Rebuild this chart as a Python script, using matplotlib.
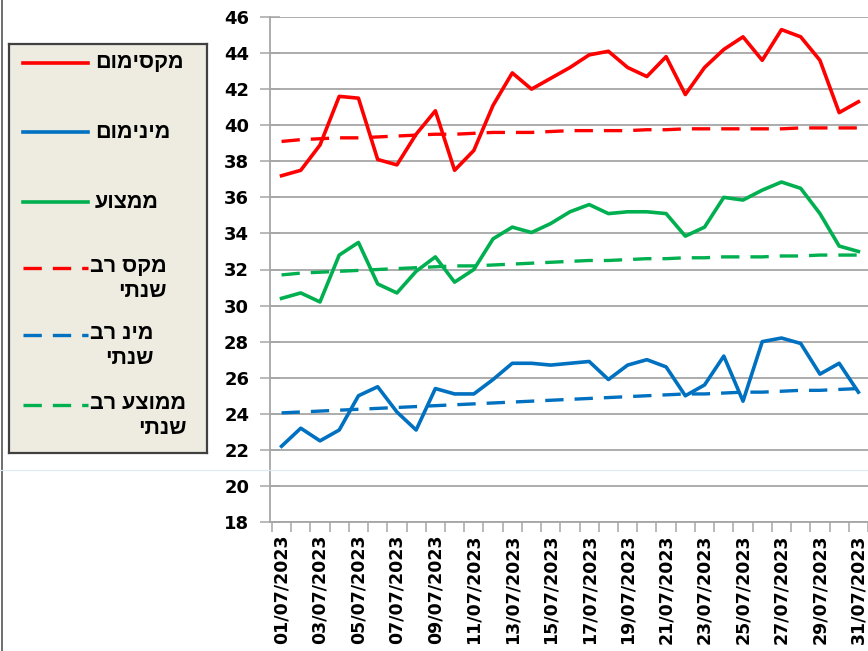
import numpy as np
import matplotlib.pyplot as plt
from matplotlib.lines import Line2D

# ---------------------------------
# Data: daily temperatures, July 2023
# ---------------------------------
days = list(range(1, 32))
date_labels = ["%02d/07/2023" % d for d in days]

max_t = [37.2, 37.5, 38.9, 41.6, 41.5, 38.1, 37.8, 39.5, 40.8, 37.5, 38.6,
         41.1, 42.9, 42.0, 42.6, 43.2, 43.9, 44.1, 43.2, 42.7, 43.8, 41.7,
         43.2, 44.2, 44.9, 43.6, 45.3, 44.9, 43.6, 40.7, 41.3]
min_t = [22.2, 23.2, 22.5, 23.1, 25.0, 25.5, 24.1, 23.1, 25.4, 25.1, 25.1,
         25.9, 26.8, 26.8, 26.7, 26.8, 26.9, 25.9, 26.7, 27.0, 26.6, 25.0,
         25.6, 27.2, 24.7, 28.0, 28.2, 27.9, 26.2, 26.8, 25.2]
avg_t = [30.4, 30.7, 30.2, 32.8, 33.5, 31.2, 30.7, 31.9, 32.7, 31.3, 32.0,
         33.7, 34.35, 34.05, 34.55, 35.2, 35.6, 35.1, 35.2, 35.2, 35.1, 33.85,
         34.35, 36.0, 35.85, 36.4, 36.85, 36.5, 35.1, 33.3, 33.0]

max_clim = [39.1, 39.2, 39.25, 39.3, 39.3, 39.35, 39.4, 39.45, 39.5, 39.5, 39.55,
            39.6, 39.6, 39.6, 39.65, 39.7, 39.7, 39.7, 39.7, 39.75, 39.75, 39.8,
            39.8, 39.8, 39.8, 39.8, 39.8, 39.85, 39.85, 39.85, 39.85]
min_clim = [24.05, 24.1, 24.15, 24.2, 24.25, 24.3, 24.35, 24.4, 24.45, 24.5, 24.55,
            24.6, 24.65, 24.7, 24.75, 24.8, 24.85, 24.9, 24.95, 25.0, 25.05, 25.1,
            25.1, 25.15, 25.2, 25.2, 25.25, 25.3, 25.3, 25.35, 25.4]
avg_clim = [31.7, 31.8, 31.85, 31.9, 31.95, 32.0, 32.05, 32.1, 32.15, 32.2, 32.2,
            32.25, 32.3, 32.35, 32.4, 32.45, 32.5, 32.5, 32.55, 32.6, 32.6, 32.65,
            32.65, 32.7, 32.7, 32.7, 32.75, 32.75, 32.8, 32.8, 32.8]

labels = ["מקסימום", "מינימום", "ממצוע", "מקס רב\nשנתי", "מינ רב\nשנתי", "ממוצע רב\nשנתי"]

RED, BLUE, GREEN = "#FF0000", "#0070C0", "#00B050"
GRID = "#A6A6A6"


def rtl(s):
    # matplotlib has no bidi support: reverse each line for display
    return "\n".join(line[::-1] for line in s.split("\n"))


plt.rcParams['font.family'] = ['DejaVu Sans']
plt.rcParams['font.weight'] = 'bold'

W, H = 868, 651
fig = plt.figure(figsize=(W / 100, H / 100), dpi=100)

# ---------------------------------
# Main plot
# ---------------------------------
ax = fig.add_axes([270 / W, 1 - 522 / H, 598 / W, 505 / H])
x = np.arange(len(days))

series = [
    (max_t, RED, '-'), (min_t, BLUE, '-'), (avg_t, GREEN, '-'),
    (max_clim, RED, '--'), (min_clim, BLUE, '--'), (avg_clim, GREEN, '--'),
]
for vals, col, ls in series:
    if ls == '-':
        ax.plot(x, vals, color=col, lw=2.6, zorder=3)
    else:
        ax.plot(x, vals, color=col, lw=2.4, dashes=(5.5, 3.3), zorder=3)

ax.set_ylim(18, 46)
ax.set_yticks(np.arange(18, 47, 2))
ax.set_xlim(-0.6, 30.5)
ax.set_xticks(x[::2])
ax.set_xticklabels(date_labels[::2], rotation=90, fontsize=12.5, fontweight='bold')
ax.set_xticks(np.arange(-0.5, 31, 1), minor=True)
ax.tick_params(axis='x', which='major', length=0, pad=9)
ax.tick_params(axis='x', which='minor', length=7, color=GRID, width=1.1)
ax.tick_params(axis='y', direction='inout', length=14, color=GRID, width=1.1,
               labelsize=13, pad=8)

ax.grid(axis='y', color=GRID, lw=1.3)
for s in ['top', 'right']:
    ax.spines[s].set_visible(False)
ax.spines['left'].set_color(GRID)
ax.spines['left'].set_linewidth(1.3)
ax.spines['bottom'].set_color(GRID)
ax.spines['bottom'].set_linewidth(1.3)

# ---------------------------------
# Legend box (drawn by hand, Hebrew text)
# ---------------------------------
lg = fig.add_axes([9 / W, 1 - 453 / H, 198 / W, 409 / H])
lg.set_xlim(0, 198)
lg.set_ylim(409, 0)
lg.set_facecolor("#EEEBE0")
lg.set_xticks([])
lg.set_yticks([])
for s in lg.spines.values():
    s.set_color("#404040")
    s.set_linewidth(1.6)

heb_font = ['Liberation Sans', 'DejaVu Sans']
rows = [19, 88, 158, 224, 291, 361]
for (vals, col, ls), lab, ry in zip(series, labels, rows):
    if ls == '-':
        lg.plot([14, 79], [ry, ry], color=col, lw=2.6)
    else:
        lg.plot([14, 79], [ry, ry], color=col, lw=2.4, dashes=(5.5, 3.3))
    if "\n" in lab:
        lg.text(81, ry - 12, rtl(lab), ha='left', va='top', fontsize=15.5,
                family=heb_font, fontweight='bold', multialignment='right',
                linespacing=1.25)
    else:
        lg.text(86, ry, rtl(lab), ha='left', va='center', fontsize=15.5,
                family=heb_font, fontweight='bold')

# frame edges of the original screenshot
fig.add_artist(Line2D([1.5 / W, 1.5 / W], [0, 1], color="#555555", lw=1.2))
fig.add_artist(Line2D([0, 1], [1 - 470 / H, 1 - 470 / H], color="#DCEAF5", lw=0.8))

fig.savefig("out.png", dpi=100)
